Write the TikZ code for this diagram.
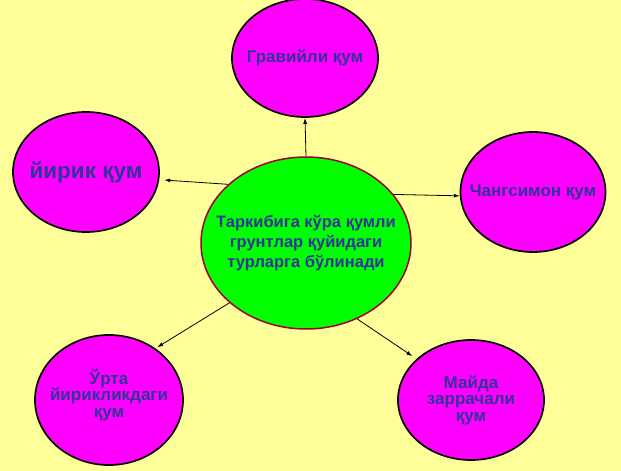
\documentclass[tikz,border=0pt]{standalone}
\usepackage{fontspec}
\setmainfont{Liberation Sans}
\usetikzlibrary{shapes.geometric,arrows.meta}
\definecolor{bgyellow}{RGB}{255,255,153}
\definecolor{magentafill}{RGB}{255,0,255}
\definecolor{greenfill}{RGB}{0,255,0}
\definecolor{textblue}{RGB}{51,51,153}
\definecolor{redborder}{RGB}{160,0,40}
\tikzset{
  outerell/.style={ellipse, draw=black, line width=1.7pt, fill=magentafill, inner sep=0pt},
  centerell/.style={ellipse, draw=redborder, line width=1.5pt, fill=greenfill, inner sep=0pt},
  lbl/.style={text=textblue, font=\bfseries\fontsize{17}{16.5}\selectfont, align=center, inner sep=0pt},
  clbl/.style={text=textblue, font=\bfseries\fontsize{16.5}{20}\selectfont, align=center, inner sep=0pt},
  conn/.style={line width=0.8pt, -{Latex[length=6pt,width=4pt]}}
}
\begin{document}
\begin{tikzpicture}[x=1pt,y=-1pt]
\useasboundingbox (0,0) rectangle (621,471);
\fill[bgyellow] (0,0) rectangle (621,471);
\node[centerell, minimum width=210pt, minimum height=172pt,
  label={[clbl]center:Таркибига кўра қумли\\грунтлар қуйидаги\\турларга бўлинади}] (c) at (306,243) {};
\node[outerell, minimum width=146pt, minimum height=118pt,
  label={[lbl]center:Гравийли қум}] (t) at (305,58) {};
\node[outerell, minimum width=146pt, minimum height=120pt,
  label={[lbl, font=\bfseries\fontsize{22.5}{24}\selectfont]center:йирик қум}] (l) at (86,172) {};
\node[outerell, minimum width=145pt, minimum height=120pt,
  label={[lbl]center:Чангсимон қум}] (r) at (533,192) {};
\node[outerell, minimum width=148pt, minimum height=130pt,
  label={[lbl, yshift=5pt]center:Ўрта\\йирикликдаги\\қум}] (bl) at (109,400) {};
\node[outerell, minimum width=146pt, minimum height=120pt,
  label={[lbl]center:Майда\\заррачали\\қум}] (br) at (471,400) {};
\draw[conn] (c.north) -- (t.south);
\draw[conn, shorten >=5pt] (c.143) -- (l.-6);
\draw[conn] (c.29) -- (r.183);
\draw[conn, shorten >=2pt] (c.218) -- (bl.48);
\draw[conn, shorten >=5pt] (c.304) -- (br.143);
\end{tikzpicture}
\end{document}
